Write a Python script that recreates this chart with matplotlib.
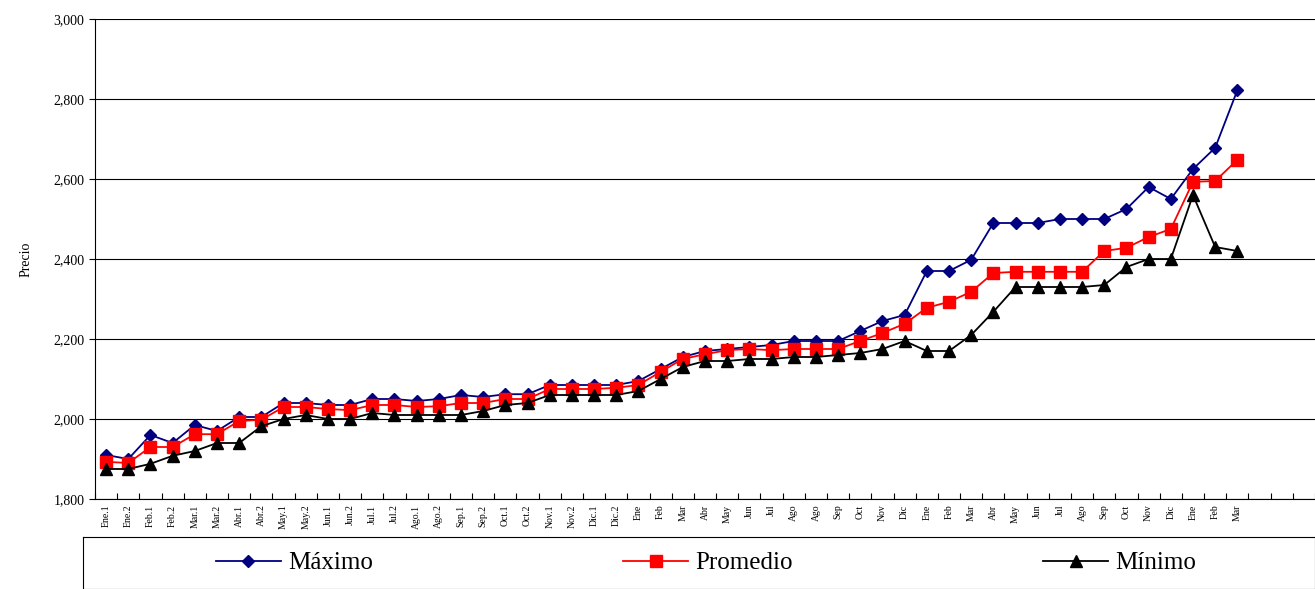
import matplotlib
matplotlib.use("Agg")
import matplotlib.pyplot as plt
from matplotlib.ticker import FuncFormatter

plt.rcParams["font.family"] = ["Liberation Serif", "DejaVu Serif"]

labels = ["Ene.1", "Ene.2", "Feb.1", "Feb.2", "Mar.1", "Mar.2", "Abr.1", "Abr.2",
          "May.1", "May.2", "Jun.1", "Jun.2", "Jul.1", "Jul.2", "Ago.1", "Ago.2",
          "Sep.1", "Sep.2", "Oct.1", "Oct.2", "Nov.1", "Nov.2", "Dic.1", "Dic.2",
          "Ene", "Feb", "Mar", "Abr", "May", "Jun", "Jul", "Ago", "Ago", "Sep",
          "Oct", "Nov", "Dic",
          "Ene", "Feb", "Mar", "Abr", "May", "Jun", "Jul", "Ago", "Sep", "Oct",
          "Nov", "Dic", "Ene", "Feb", "Mar"]

maximo = [1910, 1900, 1960, 1940, 1985, 1970, 2005, 2005, 2040, 2040, 2035, 2035,
          2050, 2050, 2045, 2050, 2060, 2055, 2062, 2062, 2085, 2085, 2085, 2085,
          2095, 2125, 2155, 2170, 2175, 2180, 2185, 2195, 2195, 2195, 2220, 2245,
          2260, 2370, 2370, 2398, 2490, 2490, 2490, 2500, 2500, 2500, 2525, 2580,
          2550, 2625, 2678, 2822]
promedio = [1893, 1890, 1930, 1930, 1962, 1962, 1995, 1998, 2030, 2030, 2025, 2022,
            2035, 2035, 2030, 2032, 2040, 2040, 2050, 2050, 2075, 2075, 2075, 2078,
            2085, 2118, 2150, 2162, 2172, 2175, 2172, 2175, 2175, 2175, 2195, 2215,
            2238, 2278, 2293, 2318, 2365, 2368, 2368, 2368, 2368, 2420, 2428, 2455,
            2475, 2593, 2595, 2648]
minimo = [1875, 1875, 1888, 1908, 1920, 1940, 1940, 1982, 2000, 2010, 2000, 2000,
          2015, 2010, 2010, 2010, 2010, 2020, 2035, 2040, 2060, 2060, 2060, 2060,
          2070, 2100, 2130, 2145, 2145, 2150, 2150, 2155, 2155, 2160, 2165, 2175,
          2195, 2170, 2170, 2210, 2268, 2330, 2330, 2330, 2330, 2335, 2380, 2400,
          2400, 2560, 2430, 2420]
n_slots = 55

fig = plt.figure(figsize=(13.15, 5.89), dpi=100)
ax = fig.add_axes([95 / 1315, 1 - 499 / 589, 1 - 95 / 1315, 480 / 589])
x = list(range(len(labels)))
l1, = ax.plot(x, maximo, color="#000080", marker="D", markersize=6, lw=1.3, label="Máximo")
l2, = ax.plot(x, promedio, color="#ff0000", marker="s", markersize=8, lw=1.3, label="Promedio")
l3, = ax.plot(x, minimo, color="black", marker="^", markersize=8, lw=1.3, label="Mínimo")

ax.set_ylim(1800, 3000)
ax.set_yticks(range(1800, 3001, 200))
ax.yaxis.set_major_formatter(FuncFormatter(lambda v, p: f"{int(v):,}"))
ax.grid(axis="y", color="black", lw=0.8)
ax.set_xlim(-0.5, n_slots - 0.5)
ax.set_xticks([i + 0.5 for i in range(-1, n_slots)])
ax.set_xticklabels([])
ax.set_xticks(x, minor=True)
ax.set_xticklabels(labels, minor=True, rotation=90, fontsize=7)
ax.tick_params(axis="x", which="minor", length=0, pad=4)
ax.tick_params(axis="x", which="major", length=4, direction="in")
ax.tick_params(axis="y", labelsize=10, direction="out", length=4)
ax.set_ylabel("Precio", fontsize=10)
ax.yaxis.set_label_coords(-0.051, 0.5)
for s in ["top", "right"]:
    ax.spines[s].set_visible(False)

lax = fig.add_axes([83 / 1315, 0, 1 - 83 / 1315, 52 / 589])
lax.set_xticks([])
lax.set_yticks([])
for s in lax.spines.values():
    s.set_color("black")
    s.set_linewidth(0.8)
lax.legend(handles=[l1, l2, l3], loc="center", bbox_to_anchor=(0.5 + 7 / 1232, 0.5),
           ncol=3, frameon=False, fontsize=18, columnspacing=10,
           handlelength=2.6, handletextpad=0.3)

fig.savefig("out.png", dpi=100)
